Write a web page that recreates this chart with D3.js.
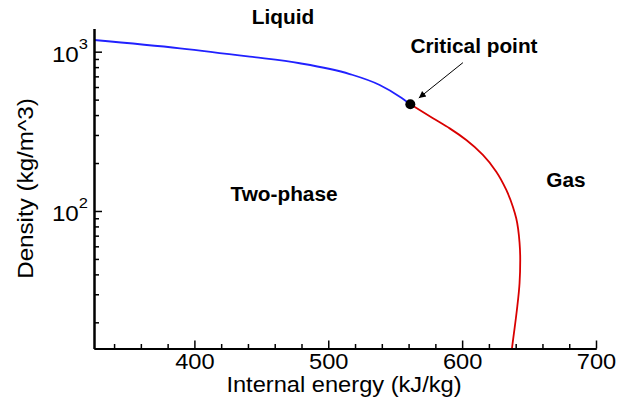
<!DOCTYPE html>
<html>
<head>
<meta charset="utf-8">
<script src="https://cdn.jsdelivr.net/npm/d3@7"></script>
<style>
  html, body { margin: 0; padding: 0; background: #fff; }
  svg { display: block; }
</style>
</head>
<body>
<script>
// CO2 saturation dome: internal energy (kJ/kg) vs density (kg/m^3)
const liquidBranch = [
  [325.0, 1184], [389.2, 1050], [441.4, 930], [478.7, 846],
  [516.0, 724], [538.4, 618], [553.4, 522], [561.3, 467.7]
];
const vaporBranch = [
  [561.3, 467.7], [578.2, 382], [590.7, 330], [603.1, 279],
  [615.5, 225], [625.5, 176.5], [633.0, 135.5], [637.9, 106.4], [640.4, 90],
  [642.9, 63.1], [643.4, 49.3], [642.9, 35.3], [640.9, 23.9], [638.7, 17.1],
  [637.2, 13.7]
];
const criticalPoint = [561.3, 467.7];

const xMajorTicks = [400, 500, 600, 700];
const xMinorTicks = [340, 360, 380, 420, 440, 460, 480, 520, 540, 560, 580, 620, 640, 660, 680];
const yMajorTicks = [100, 1000];
const yMajorExponents = ["2", "3"];
const yMinorTicks = [20, 30, 40, 50, 60, 70, 80, 90, 200, 300, 400, 500, 600, 700, 800, 900];

const xTitle = "Internal energy (kJ/kg)";
const yTitle = "Density (kg/m^3)";
const criticalLabel = "Critical point";
const regionNames = ["Liquid", "Two-phase", "Gas"];

const W = 617, H = 402;
const FONT = "'Liberation Sans', Arial, Helvetica, sans-serif";
const STRETCH = 1.1;   // wide sans look for axis text

const svg = d3.select("body").append("svg")
  .attr("width", W).attr("height", H)
  .style("background", "#fff");

const x = d3.scaleLinear().domain([325, 700]).range([94, 596]);
const y = d3.scaleLog().domain([13.7, 1400]).range([348.5, 28.4]);

// helper: text drawn at (px, py) with a horizontal stretch
function stretchedText(parent, px, py, anchor, sx, size, weight) {
  const g = parent.append("g").attr("transform", `translate(${px},${py})`);
  return g.append("text")
    .attr("transform", `scale(${sx},1)`)
    .attr("text-anchor", anchor)
    .attr("font-family", FONT)
    .attr("font-size", size)
    .attr("font-weight", weight || "normal")
    .attr("fill", "#000");
}

// ---- curves ----
// liquid branch is single-valued in energy, vapour branch in density
const liquidLine = d3.line()
  .x(d => x(d[0]))
  .y(d => y(d[1]))
  .curve(d3.curveMonotoneX);
const vaporLine = d3.line()
  .x(d => x(d[0]))
  .y(d => y(d[1]))
  .curve(d3.curveMonotoneY);

svg.append("path")
  .datum(liquidBranch)
  .attr("d", liquidLine)
  .attr("fill", "none")
  .attr("stroke", "#2121ff")
  .attr("stroke-width", 1.8);

svg.append("path")
  .datum(vaporBranch)
  .attr("d", vaporLine)
  .attr("fill", "none")
  .attr("stroke", "#d90000")
  .attr("stroke-width", 1.8);

// ---- axes ----
const axisG = svg.append("g");

function styleAxis(g, tickWidth) {
  g.selectAll(".tick line").attr("stroke", "#000").attr("stroke-width", tickWidth);
  g.select(".domain").attr("stroke", "#000").attr("stroke-width", 2);
}

// x axis: minor then major ticks, pointing into the plot
const xMinorG = axisG.append("g").attr("transform", `translate(0,${y.range()[0]})`)
  .call(d3.axisBottom(x).tickValues(xMinorTicks).tickSize(-4.5).tickSizeOuter(0).tickFormat(""));
styleAxis(xMinorG, 1.5);
const xMajorG = axisG.append("g").attr("transform", `translate(0,${y.range()[0]})`)
  .call(d3.axisBottom(x).tickValues(xMajorTicks).tickSize(-8).tickSizeOuter(0).tickFormat(d3.format("d")));
styleAxis(xMajorG, 1.5);
xMajorG.selectAll(".tick text")
  .attr("y", 21).attr("dy", null)
  .attr("transform", `scale(${STRETCH},1)`)
  .attr("font-family", FONT)
  .attr("font-size", 21.5)
  .attr("fill", "#000");

// y axis: log scale, ticks pointing into the plot
const yMinorG = axisG.append("g").attr("transform", `translate(${x.range()[0]},0)`)
  .call(d3.axisLeft(y).tickValues(yMinorTicks).tickSize(-5).tickSizeOuter(0).tickFormat(""));
styleAxis(yMinorG, 1.5);
const yMajorG = axisG.append("g").attr("transform", `translate(${x.range()[0]},0)`)
  .call(d3.axisLeft(y).tickValues(yMajorTicks).tickSize(-8).tickSizeOuter(0).tickFormat(""));
styleAxis(yMajorG, 1.5);

// power-of-ten labels
yMajorTicks.forEach((v, i) => {
  const t = stretchedText(svg, 88, y(v) + 10, "end", STRETCH, 22);
  t.append("tspan").text("10");
  t.append("tspan").attr("font-size", 15).attr("dy", -12.5).text(yMajorExponents[i]);
});

// axis titles
stretchedText(svg, 344, 392, "middle", STRETCH, 21.5).text(xTitle);
const yt = svg.append("g").attr("transform", "translate(33,188.5) rotate(-90)");
yt.append("text")
  .attr("transform", `scale(${STRETCH},1)`)
  .attr("text-anchor", "middle")
  .attr("font-family", FONT)
  .attr("font-size", 22)
  .attr("fill", "#000")
  .text(yTitle);

// ---- critical point marker and annotation ----
const cx = x(criticalPoint[0]), cy = y(criticalPoint[1]);

svg.append("defs").append("marker")
  .attr("id", "arrowhead")
  .attr("viewBox", "0 0 10 10")
  .attr("refX", 10).attr("refY", 5)
  .attr("markerWidth", 11).attr("markerHeight", 7)
  .attr("markerUnits", "userSpaceOnUse")
  .attr("orient", "auto")
  .append("path").attr("d", "M0,0L10,5L0,10Z").attr("fill", "#000");

svg.append("line")
  .attr("x1", cx + 52.6).attr("y1", cy - 41.6)
  .attr("x2", cx + 8.5).attr("y2", cy - 6.2)
  .attr("stroke", "#000").attr("stroke-width", 1)
  .attr("marker-end", "url(#arrowhead)");

svg.append("circle")
  .attr("cx", cx).attr("cy", cy).attr("r", 5)
  .attr("fill", "#000");

stretchedText(svg, 474, 52.5, "middle", 1.04, 20, "bold").text(criticalLabel);

// ---- region labels ----
stretchedText(svg, 283, 24, "middle", 1.04, 20, "bold").text(regionNames[0]);
stretchedText(svg, 284, 200.5, "middle", 1.04, 20, "bold").text(regionNames[1]);
stretchedText(svg, 566, 187, "middle", 1.04, 20, "bold").text(regionNames[2]);
</script>
</body>
</html>
